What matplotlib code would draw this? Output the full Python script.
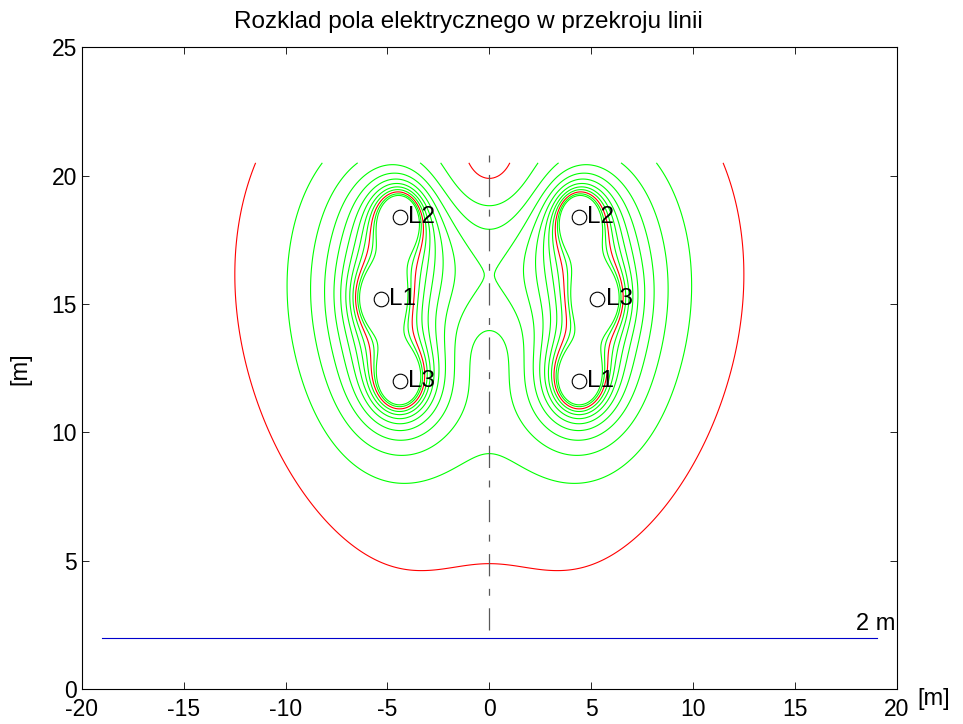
import numpy as np
import matplotlib.pyplot as plt

plt.rcParams['font.family'] = ['Liberation Sans', 'DejaVu Sans']
plt.rcParams['axes.unicode_minus'] = False
plt.rcParams['lines.scale_dashes'] = False

# Przewody fazowe linii dwutorowej: oznaczenie fazy i polozenie [m]
nazwy = ['L2', 'L1', 'L3', 'L2', 'L3', 'L1']
x_przew = [-4.4, -5.3, -4.4, 4.4, 5.3, 4.4]
y_przew = [18.4, 15.2, 12.0, 18.4, 15.2, 12.0]
katy_faz = {'L1': 0.0, 'L2': -120.0, 'L3': 120.0}

U_fazowe = 77.0     # kV
r_przew = 0.0109    # m

# Poziomy izolinii natezenia pola [kV/m]
poziomy = [1, 2, 3, 4, 5, 6, 7, 8, 9, 10, 11, 12]
poziomy_czerwone = [1, 10]

# Linia pomocnicza na wysokosci 2 m
h_pomiar = 2.0
x_pomiar = [-19.0, 19.0]

# --- obliczenia metoda odbic zwierciadlanych ---
xp = np.array(x_przew)
yp = np.array(y_przew)
U = U_fazowe * np.exp(1j * np.deg2rad([katy_faz[n] for n in nazwy]))

D = np.hypot(xp[:, None] - xp[None, :], yp[:, None] - yp[None, :])
np.fill_diagonal(D, r_przew)
Dp = np.hypot(xp[:, None] - xp[None, :], yp[:, None] + yp[None, :])
lam = np.linalg.solve(np.log(Dp / D), U)

X, Y = np.meshgrid(np.arange(-20, 20.001, 0.1), np.arange(0, 20.501, 0.1))
Ex = np.zeros(X.shape, dtype=complex)
Ey = np.zeros(X.shape, dtype=complex)
with np.errstate(divide='ignore', invalid='ignore'):
    for xi, yi, li in zip(xp, yp, lam):
        dx = X - xi
        dy = Y - yi
        dyo = Y + yi
        r2 = dx**2 + dy**2
        r2o = dx**2 + dyo**2
        Ex += li * (dx / r2 - dx / r2o)
        Ey += li * (dy / r2 - dyo / r2o)
    E = np.sqrt(np.abs(Ex)**2 + np.abs(Ey)**2)
E = np.where(np.isfinite(E), E, 1e3)

# --- wykres ---
fig = plt.figure(figsize=(9.63, 7.24), dpi=100)
ax = fig.add_axes([0.0848, 0.048, 0.8467, 0.8867])

kolory = ['r' if p in poziomy_czerwone else (0, 1, 0) for p in poziomy]
ax.contour(X, Y, E, levels=poziomy, colors=kolory, linewidths=0.8)

# os symetrii slupa
ax.plot([0, 0], [2.3, 21.0], color='0.35', linewidth=0.9,
        dashes=(16, 9, 5, 9))
ax.plot(x_pomiar, [h_pomiar, h_pomiar], color=(0, 0, 0.8), linewidth=0.8)
ax.text(18.0, h_pomiar + 0.1, '%g m' % h_pomiar, fontsize=17,
        ha='left', va='bottom')

for n, xi, yi in zip(nazwy, x_przew, y_przew):
    ax.plot(xi, yi, 'o', markersize=10.5, markerfacecolor='none',
            markeredgecolor='k', markeredgewidth=0.8)
    ax.text(xi + 0.4, yi, n, fontsize=17.5, ha='left', va='center')

ax.set_xlim(-20, 20)
ax.set_ylim(0, 25)
ax.set_xticks(range(-20, 21, 5))
ax.set_yticks(range(0, 26, 5))
ax.tick_params(direction='in', top=True, right=True, labelsize=16.5,
               length=5, width=0.6)
ax.tick_params(axis='x', pad=6)
for s in ax.spines.values():
    s.set_linewidth(0.8)
ax.set_title('Rozklad pola elektrycznego w przekroju linii', fontsize=17.5,
             x=0.474, pad=14)
ax.set_ylabel('[m]', fontsize=17, labelpad=14)
fig.text(0.970, 0.034, '[m]', fontsize=17, ha='center', va='center')

fig.savefig('out.png', dpi=100)
